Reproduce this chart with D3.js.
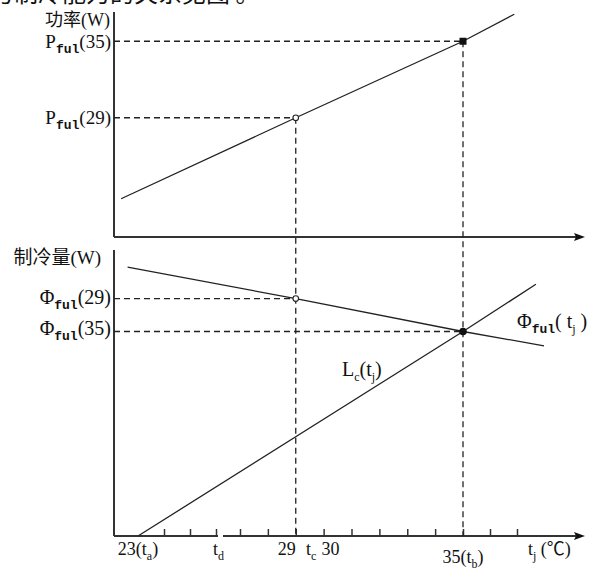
<!DOCTYPE html>
<html>
<head>
<meta charset="utf-8">
<script src="https://cdn.jsdelivr.net/npm/d3@7"></script>
<style>
  body { margin: 0; background: #fff; }
  svg { display: block; }
  text { fill: #111; font-family: "Liberation Serif", "Noto Sans CJK SC", serif; }
  .bold { font-family: "Liberation Mono", monospace; font-weight: bold; }
</style>
</head>
<body>
<svg id="chart"></svg>
<script>
// t_j axis ticks (°C)
const tickTemps = [24, 25, 26, 27, 28, 29, 30, 31, 32, 33, 34, 35, 36, 37];

// upper panel: power P_ful(t_j), W (relative)
const powerT = [22.35, 29, 35, 36.9];
const powerW = [17, 53, 87, 99];

// lower panel: capacity Phi_ful(t_j) and load L_c(t_j), W (relative)
const capT = [22.6, 29, 35, 38];
const capW = [94, 83, 71.5, 66.5];
const loadT = [23, 35, 37.7];
const loadW = [0, 71.5, 88];

// bottom labels: [temp, main, subscript, tail]
const bottomLabels = [
  [23, "23(t", "a", ")"],
  [26.1, "t", "d", ""],
  [28.68, "29", "", ""],
  [29.55, "t", "c", ""],
  [30.25, "30", "", ""],
  [35, "35(t", "b", ")"],
  [38.2, "t", "j", " (℃)"]
];

const width = 593, height = 572;
const axisX = 114, arrowEnd = 585;
const svg = d3.select("#chart").attr("width", width).attr("height", height);

// the t axis is broken between 26 and 27
const x = d3.scaleLinear().domain([23, 26, 27, 35, 37]).range([138, 216, 240, 463, 517]);
const yTop = d3.scaleLinear().domain([0, 100]).range([237, 12]);
const yBot = d3.scaleLinear().domain([0, 100]).range([536, 250]);

// parts: [text, kind] kind = "sub" (bold ful-style) | "s" (plain small sub) | undefined
function label(g, px, py, parts, anchor, size) {
  size = size || 20;
  let t = g.append("text").attr("x", px).attr("y", py)
    .attr("text-anchor", anchor || "start").style("font-size", size + "px");
  let shifted = 0;
  parts.forEach(p => {
    if (!p[0]) return;
    let ts = t.append("tspan").text(p[0]);
    if (p[1]) {
      ts.attr("dy", 5 - shifted).style("font-size", (p[1] == "sub" ? 13 : 12) + "px");
      if (p[1] == "sub") ts.attr("class", "bold");
      shifted = 5;
    } else if (shifted) {
      ts.attr("dy", -shifted);
      shifted = 0;
    }
  });
  return t;
}

function dashed(x1, y1, x2, y2) {
  svg.append("line").attr("x1", x1).attr("x2", x2).attr("y1", y1).attr("y2", y2)
    .attr("stroke", "#222").attr("stroke-width", 1.3).attr("stroke-dasharray", "6,4");
}

// axes frames
const axisColor = "#333";
function axisLine(x1, x2, y0) {
  svg.append("line").attr("x1", x1).attr("x2", x2).attr("y1", y0).attr("y2", y0)
    .attr("stroke", axisColor).attr("stroke-width", 2);
}
function arrow(y0) {
  svg.append("path")
    .attr("d", `M${arrowEnd},${y0} L${arrowEnd - 11},${y0 - 4} L${arrowEnd - 9},${y0} L${arrowEnd - 11},${y0 + 4} Z`)
    .attr("fill", "#111");
}
svg.append("line").attr("x1", axisX).attr("x2", axisX).attr("y1", yTop.range()[1]).attr("y2", yTop(0))
  .attr("stroke", axisColor).attr("stroke-width", 2);
svg.append("line").attr("x1", axisX).attr("x2", axisX).attr("y1", yBot.range()[1]).attr("y2", yBot(0))
  .attr("stroke", axisColor).attr("stroke-width", 2);
axisLine(axisX, arrowEnd - 8, yTop(0));
arrow(yTop(0));
axisLine(axisX, 218, yBot(0));
axisLine(223, arrowEnd - 8, yBot(0));
arrow(yBot(0));

// ticks on the lower t axis
const xAxis = d3.axisBottom(x).tickValues(tickTemps).tickSize(-7).tickFormat("");
const gx = svg.append("g").attr("transform", `translate(0,${yBot(0)})`).call(xAxis);
gx.select(".domain").remove();
gx.selectAll(".tick line").attr("stroke", axisColor).attr("stroke-width", 1.5);

// guide lines
const p29 = powerW[powerT.indexOf(29)], p35 = powerW[powerT.indexOf(35)];
const c29 = capW[capT.indexOf(29)], c35 = capW[capT.indexOf(35)];
dashed(axisX, yTop(p35), x(35), yTop(p35));
dashed(axisX, yTop(p29), x(29), yTop(p29));
dashed(axisX, yBot(c29), x(29), yBot(c29));
dashed(axisX, yBot(c35), x(35), yBot(c35));
dashed(x(29), yTop(p29), x(29), yBot(0));
dashed(x(35), yTop(p35), x(35), yBot(0));

// data lines
const lineTop = d3.line().x(d => x(d[0])).y(d => yTop(d[1]));
const lineBot = d3.line().x(d => x(d[0])).y(d => yBot(d[1]));
svg.append("path").attr("d", lineTop(d3.zip(powerT, powerW)))
  .attr("fill", "none").attr("stroke", "#222").attr("stroke-width", 1.3);
svg.append("path").attr("d", lineBot(d3.zip(capT, capW)))
  .attr("fill", "none").attr("stroke", "#222").attr("stroke-width", 1.3);
svg.append("path").attr("d", lineBot(d3.zip(loadT, loadW)))
  .attr("fill", "none").attr("stroke", "#222").attr("stroke-width", 1.3);

// markers
svg.append("circle").attr("cx", x(29)).attr("cy", yTop(p29)).attr("r", 2.8)
  .attr("fill", "#fff").attr("stroke", "#222").attr("stroke-width", 1.1);
svg.append("rect").attr("x", x(35) - 3.5).attr("y", yTop(p35) - 3.5).attr("width", 7).attr("height", 7)
  .attr("fill", "#111");
svg.append("circle").attr("cx", x(29)).attr("cy", yBot(c29)).attr("r", 2.8)
  .attr("fill", "#fff").attr("stroke", "#222").attr("stroke-width", 1.1);
svg.append("circle").attr("cx", x(35)).attr("cy", yBot(c35)).attr("r", 3.8).attr("fill", "#111");

// left labels
label(svg, 110, 26, [["功率(W)"]], "end", 18);
label(svg, 111, yTop(p35) + 7, [["P"], ["ful", "sub"], ["(35)"]], "end", 19);
label(svg, 111, yTop(p29) + 6, [["P"], ["ful", "sub"], ["(29)"]], "end", 19);
label(svg, 101, 264, [["制冷量(W)"]], "end", 19);
label(svg, 111, yBot(c29) + 5, [["Φ"], ["ful", "sub"], ["(29)"]], "end");
label(svg, 111, yBot(c35) + 3, [["Φ"], ["ful", "sub"], ["(35)"]], "end");

// curve labels
label(svg, 517, 328, [["Φ"], ["ful", "sub"], ["( t"], ["j", "s"], [" )"]]);
label(svg, 342, 376, [["L"], ["c", "s"], ["(t"], ["j", "s"], [")"]]);

// bottom labels
bottomLabels.forEach(d => {
  const yy = d[0] == 35 ? 563 : 555;
  label(svg, x(d[0]), yy, [[d[1]], [d[2], "s"], [d[3]]], "middle", 18);
});

// cut-off caption line at the very top
svg.append("text").attr("x", -10).attr("y", 2).style("font-size", "24px")
  .style("font-family", "Noto Sans CJK SC").text("与制冷能力的关系见图 。");
</script>
</body>
</html>
